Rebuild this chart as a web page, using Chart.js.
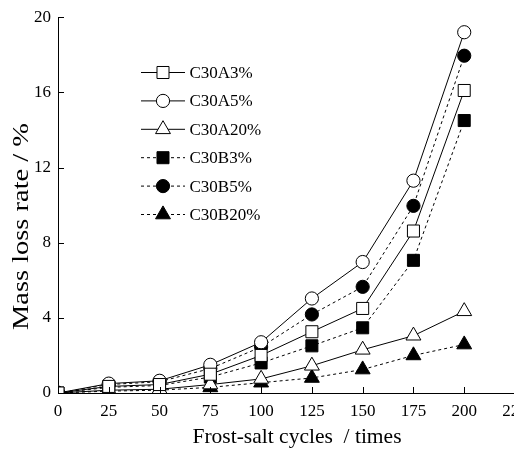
<!DOCTYPE html>
<html>
<head>
<meta charset="utf-8">
<script src="https://cdn.jsdelivr.net/npm/chart.js@4.4.1/dist/chart.umd.min.js"></script>
<style>
  html, body { margin: 0; padding: 0; background: #fff; overflow: hidden; }
  #wrap { width: 540px; height: 451px; }
</style>
</head>
<body>
<div id="wrap"><canvas id="chart" width="540" height="451"></canvas></div>
<script>
// frost-salt cycles (x) and mass loss rate (%) per mix
const cycles  = [0, 25, 50, 75, 100, 125, 150, 175, 200];
const names   = ['C30A3%', 'C30A5%', 'C30A20%', 'C30B3%', 'C30B5%', 'C30B20%'];
const c30A3   = [0, 0.35, 0.45, 1.0, 2.0, 3.26, 4.5, 8.62, 16.1];
const c30A5   = [0, 0.5, 0.65, 1.5, 2.7, 5.03, 6.97, 11.3, 19.2];
const c30A20  = [0, 0.15, 0.2, 0.45, 0.75, 1.45, 2.3, 3.05, 4.35];
const c30B3   = [0, 0.3, 0.4, 0.85, 1.6, 2.51, 3.47, 7.06, 14.5];
const c30B5   = [0, 0.45, 0.6, 1.3, 2.45, 4.18, 5.65, 9.96, 17.95];
const c30B20  = [0, 0.1, 0.15, 0.3, 0.55, 0.8, 1.25, 2.0, 2.58];
const xTicks  = [0, 25, 50, 75, 100, 125, 150, 175, 200, 225];
const yTicks  = [0, 4, 8, 12, 16, 20];

const FONT = '"Liberation Serif", "Times New Roman", serif';
const seriesData = [c30A3, c30A5, c30A20, c30B3, c30B5, c30B20];
const shapes = ['rect', 'circle', 'triangle', 'rect', 'circle', 'triangle'];
const sizes  = { rect: 8.5, circle: 6.6, triangle: 8.6 };

const datasets = seriesData.map((vals, i) => {
  const open = i < 3;
  return {
    label: names[i],
    data: vals.map((v, k) => ({ x: cycles[k], y: v })),
    borderColor: '#000',
    borderWidth: 1,
    borderDash: open ? [] : [3, 3],
    pointStyle: shapes[i],
    pointRadius: sizes[shapes[i]],
    pointBorderWidth: 1,
    pointBorderColor: '#000',
    pointBackgroundColor: open ? '#fff' : '#000',
    tension: 0,
    fill: false,
  };
});

// inward tick marks, axis titles and the in-plot legend
const decorations = {
  id: 'decorations',
  afterDraw(chart) {
    const { ctx, scales: { x, y } } = chart;
    ctx.save();
    ctx.strokeStyle = '#000';
    ctx.lineWidth = 1;
    ctx.setLineDash([]);
    ctx.beginPath();
    xTicks.forEach(v => {
      const px = Math.round(x.getPixelForValue(v)) + 0.5;
      ctx.moveTo(px, y.bottom);
      ctx.lineTo(px, y.bottom - 6);
    });
    yTicks.forEach(v => {
      const py = Math.round(y.getPixelForValue(v)) + 0.5;
      ctx.moveTo(x.left, py);
      ctx.lineTo(x.left + 6, py);
    });
    ctx.stroke();

    ctx.fillStyle = '#000';
    ctx.font = '21.5px ' + FONT;
    ctx.textAlign = 'center';
    ctx.textBaseline = 'middle';
    ctx.fillText('Frost-salt cycles  / times', 297, 437);

    // y title: the original is stretched along its length
    const yTitle = 'Mass loss rate / %';
    ctx.font = '23px ' + FONT;
    const stretch = 207 / ctx.measureText(yTitle).width;
    ctx.save();
    ctx.translate(22, 226.5);
    ctx.rotate(-Math.PI / 2);
    ctx.scale(stretch, 1);
    ctx.fillText(yTitle, 0, 0);
    ctx.restore();

    // legend
    ctx.font = '17px ' + FONT;
    ctx.textAlign = 'left';
    chart.data.datasets.forEach((ds, i) => {
      const ly = 72.5 + i * 28.4;
      ctx.setLineDash(ds.borderDash);
      ctx.beginPath();
      ctx.moveTo(141, ly);
      ctx.lineTo(185, ly);
      ctx.stroke();
      ctx.setLineDash([]);
      ctx.fillStyle = ds.pointBackgroundColor;
      ctx.strokeStyle = '#000';
      Chart.helpers.drawPoint(ctx, {
        pointStyle: ds.pointStyle, radius: ds.pointRadius, rotation: 0, borderWidth: 1,
      }, 163, ly);
      ctx.fillStyle = '#000';
      ctx.fillText(ds.label, 189.5, ly + 1);
    });
    ctx.restore();
  },
};

new Chart(document.getElementById('chart'), {
  type: 'line',
  data: { datasets },
  options: {
    responsive: false,
    animation: false,
    layout: { padding: { top: 17, right: 25, left: 0, bottom: 0 } },
    plugins: { legend: { display: false }, tooltip: { enabled: false } },
    scales: {
      x: {
        type: 'linear',
        min: 0, max: 225,
        afterFit: s => { s.height = 58; },
        afterBuildTicks: s => { s.ticks = xTicks.map(v => ({ value: v })); },
        grid: { display: false, drawTicks: false },
        border: { display: true, color: '#000', width: 1 },
        ticks: { color: '#000', padding: 8, maxRotation: 0, font: { family: FONT, size: 17 } },
      },
      y: {
        min: 0, max: 20,
        afterFit: s => { s.width = 58; },
        afterBuildTicks: s => { s.ticks = yTicks.map(v => ({ value: v })); },
        grid: { display: false, drawTicks: false },
        border: { display: true, color: '#000', width: 1 },
        ticks: { color: '#000', padding: 7, font: { family: FONT, size: 17 } },
      },
    },
  },
  plugins: [decorations],
});
</script>
</body>
</html>
